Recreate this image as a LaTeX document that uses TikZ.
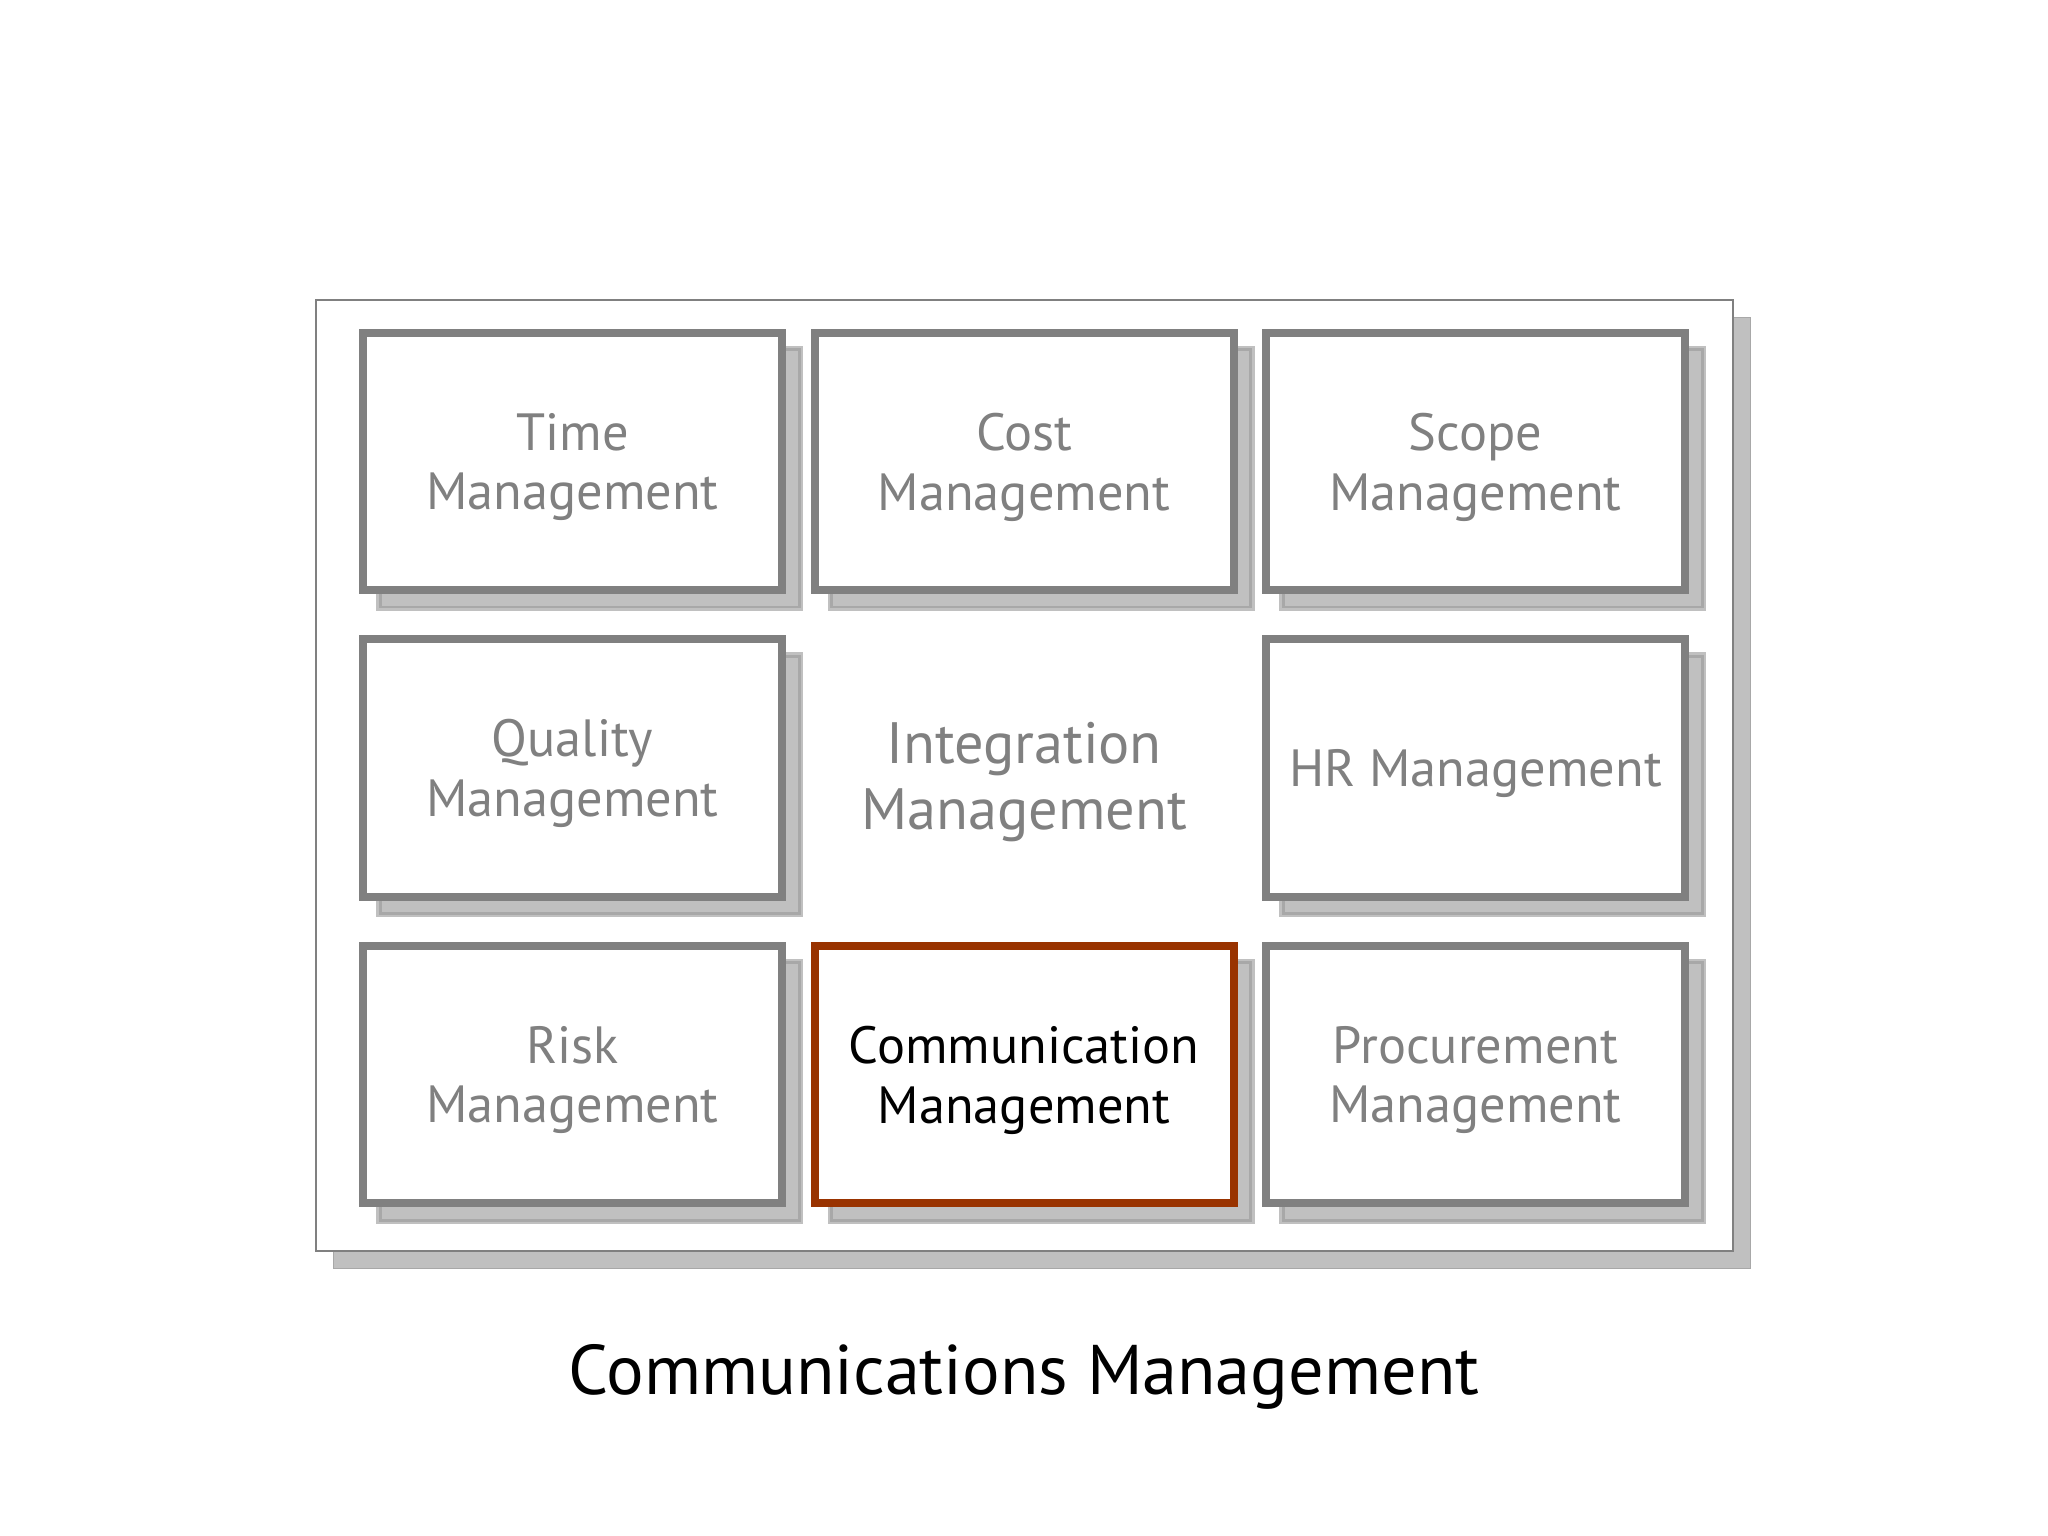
\documentclass[tikz,border=0pt]{standalone}
\usepackage{fontspec}
\setmainfont{PT Sans}
\usepackage{xcolor}
\usepackage{tikz}
\usetikzlibrary{shadows}
\definecolor{tileedge}{HTML}{808080}
\definecolor{tiletext}{HTML}{808080}
\definecolor{shadowfill}{HTML}{C0C0C0}
\definecolor{shadowedge}{HTML}{A8A8A8}
\definecolor{accent}{HTML}{993300}
\tikzset{
  board/.style={draw=tileedge, line width=0.02cm, fill=white, inner sep=0pt,
    minimum width=14.17cm, minimum height=9.5cm,
    general shadow={shadow xshift=0.175cm, shadow yshift=-0.175cm,
      fill=shadowfill, draw=shadowedge, line width=0.01cm}},
  tile/.style={draw=tileedge, line width=0.08cm, fill=white, inner sep=0pt,
    minimum width=4.19cm, minimum height=2.57cm, align=center, text depth=0pt,
    text=tiletext, font=\fontsize{14.9}{17}\selectfont,
    general shadow={shadow xshift=0.17cm, shadow yshift=-0.17cm,
      fill=shadowfill, draw=shadowfill, double=shadowedge,
      double distance=0.03cm, line width=0.025cm}},
  current/.style={tile, draw=accent, text=black},
  hub/.style={align=center, text=tiletext, font=\fontsize{16.6}{19}\selectfont},
  caption/.style={anchor=base, text=black, font=\fontsize{20}{24}\selectfont},
}

\begin{document}
\begin{tikzpicture}
\useasboundingbox (0,0) rectangle (20.48,-15.36);
% board behind the nine areas
\node (board) [board] at (10.24,-7.755) {};
% top row
\node (time) [tile] at (5.725,-4.615) {Time\\Management};
\node (cost) [tile] at (10.24,-4.615) {Cost\\Management};
\node (scope) [tile] at (14.755,-4.615) {Scope\\Management};
% middle row
\node (quality) [tile] at (5.725,-7.68) {Quality\\Management};
\node (integ) [hub] at (10.24,-7.82) {Integration\\Management};
\node (hr) [tile] at (14.755,-7.68) {HR Management};
% bottom row
\node (risk) [tile] at (5.725,-10.745) {Risk\\Management};
\node (comm) [current] at (10.24,-10.745) {Communication\\Management};
\node (proc) [tile] at (14.755,-10.745) {Procurement\\Management};
% title
\node (title) [caption] at (10.24,-13.94) {Communications Management};
\end{tikzpicture}
\end{document}
